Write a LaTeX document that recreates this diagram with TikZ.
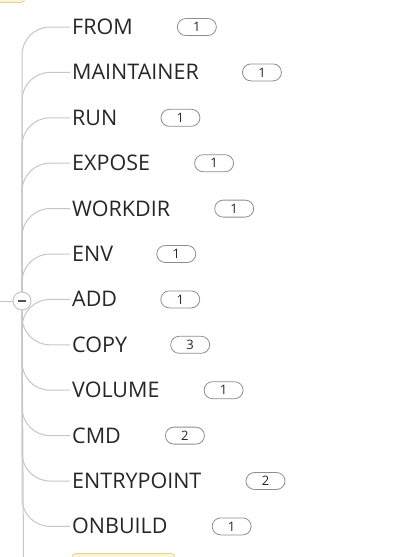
\documentclass[tikz,border=0pt]{standalone}
\usepackage{fontspec}
\setmainfont{Open Sans}
\usetikzlibrary{positioning}

\definecolor{linegray}{HTML}{C6C6C6}
\definecolor{textgray}{HTML}{262626}
\definecolor{pillgray}{HTML}{8E8E8E}
\definecolor{boxfill}{HTML}{FBF5D8}
\definecolor{boxline}{HTML}{E3D48A}

\tikzset{
  branch/.style={linegray,line width=1pt,rounded corners=28pt},
  keyword/.style={anchor=west,inner xsep=2pt,inner ysep=0pt,text height=15pt,text depth=0pt,
    text=textgray,font=\fontsize{21.5}{21.5}\selectfont},
  pill/.style={draw=pillgray,line width=0.8pt,fill=white,rounded corners=8.5pt,
    minimum width=39pt,minimum height=17pt,inner sep=0pt,text=textgray,
    font=\fontsize{13}{13}\selectfont}
}

\begin{document}
\begin{tikzpicture}[x=1pt,y=-1pt]
  \useasboundingbox (0,0) rectangle (408,557);
  \clip (0,0) rectangle (408,557);

  % cut-off neighbours
  \draw[boxline,fill=boxfill,line width=0.8pt,rounded corners=4pt] (-60,-30) rectangle (25,2.5);
  \draw[boxline,fill=boxfill,line width=0.8pt,rounded corners=4pt] (72,553.5) rectangle (175,590);

  \coordinate (hub) at (22,301);

  % incoming and outgoing trunk
  \draw[linegray,line width=1pt] (0,301) -- (hub);
  \draw[linegray,line width=1pt] (hub) -- (23.5,557);

  \foreach \name/\count/\gap [count=\i] in {FROM/1/42,MAINTAINER/1/41,RUN/1/41,EXPOSE/1/42,
      WORKDIR/1/42,ENV/1/41,ADD/1/41,COPY/3/41,VOLUME/1/42,CMD/2/42,ENTRYPOINT/2/42,ONBUILD/1/42} {
    \node[keyword] (k\i) at (70,{27+45.4*(\i-1)}) {\name};
    \node[pill,right=\gap pt of k\i] (n\i) {\count};
    \draw[branch] (hub) |- (k\i.west);
  }

  % collapse button
  \node[circle,draw=linegray,line width=1pt,fill=white,minimum size=18pt,inner sep=0pt] (btn) at (hub) {};
  \draw[textgray!80,line width=2pt] ([xshift=-4pt]btn.center) -- ([xshift=4pt]btn.center);
\end{tikzpicture}
\end{document}
